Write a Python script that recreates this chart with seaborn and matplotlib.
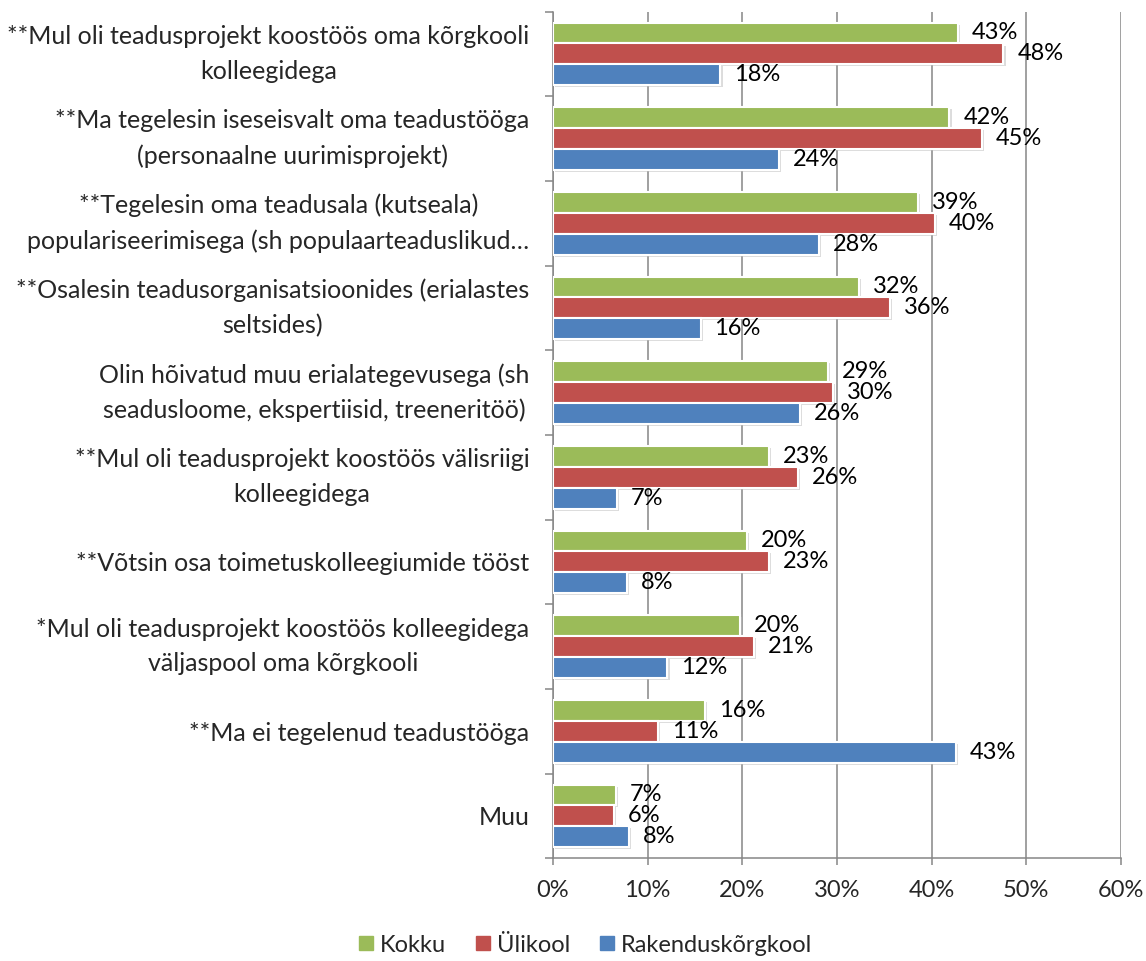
import matplotlib
matplotlib.use("Agg")
import matplotlib.pyplot as plt
import matplotlib.patheffects as pe
from matplotlib.lines import Line2D
from matplotlib.ticker import FixedLocator, FuncFormatter
import seaborn as sns
import pandas as pd

categories = [
    "**Mul oli teadusprojekt koostöös oma kõrgkooli\nkolleegidega",
    "**Ma tegelesin iseseisvalt oma teadustööga\n(personaalne uurimisprojekt)",
    "**Tegelesin oma teadusala (kutseala)\npopulariseerimisega (sh populaarteaduslikud…",
    "**Osalesin teadusorganisatsioonides (erialastes\nseltsides)",
    "Olin hõivatud muu erialategevusega (sh\nseadusloome, ekspertiisid, treeneritöö)",
    "**Mul oli teadusprojekt koostöös välisriigi\nkolleegidega",
    "**Võtsin osa toimetuskolleegiumide tööst",
    "*Mul oli teadusprojekt koostöös kolleegidega\nväljaspool oma kõrgkooli",
    "**Ma ei tegelenud teadustööga",
    "Muu",
]
series = ["Kokku", "Ülikool", "Rakenduskõrgkool"]
kokku = [42.8, 41.9, 38.6, 32.3, 29.1, 22.8, 20.5, 19.8, 16.1, 6.7]
ylikool = [47.6, 45.3, 40.4, 35.6, 29.6, 25.9, 22.8, 21.2, 11.1, 6.4]
rakendus = [17.7, 23.9, 28.1, 15.6, 26.1, 6.8, 7.8, 12.1, 42.6, 8.0]
colors = ["#9BBB59", "#C0504D", "#4F81BD"]
xticks = [0, 10, 20, 30, 40, 50, 60]

rows = []
for s, vals in zip(series, [kokku, ylikool, rakendus]):
    for c, v in zip(categories, vals):
        rows.append({"cat": c, "series": s, "val": v})
df = pd.DataFrame(rows)

sns.set_theme(style="white")
plt.rcParams["font.family"] = ["Lato", "DejaVu Sans"]

fig = plt.figure(figsize=(11.46, 9.61), dpi=100)
ax = fig.add_axes([0.4825, 0.107, 0.4955, 0.881])

sns.barplot(data=df, y="cat", x="val", hue="series", order=categories,
            hue_order=series, palette=colors, saturation=1, orient="h",
            width=0.74, edgecolor="white", linewidth=1.5, ax=ax,
            legend=False, zorder=3)

for p in ax.patches:
    p.set_path_effects([pe.SimplePatchShadow(offset=(1.5, -1.5), shadow_rgbFace="#bbbbbb", alpha=0.5), pe.Normal()])

for cont in ax.containers:
    labels = [f"{round(b.get_width())}%" for b in cont]
    ax.bar_label(cont, labels=labels, padding=10, fontsize=17, color="black")

ax.set_xlim(0, 60)
ax.set_ylim(len(categories) - 0.5, -0.5)
ax.xaxis.set_major_locator(FixedLocator(xticks))
ax.xaxis.set_major_formatter(FuncFormatter(lambda v, p: f"{int(v)}%"))
ax.grid(axis="x", color="#868686", linewidth=1.1, zorder=0)
ax.set_axisbelow(True)
ax.set_xlabel("")
ax.set_ylabel("")

for side in ["top", "right"]:
    ax.spines[side].set_visible(False)
for side in ["left", "bottom"]:
    ax.spines[side].set_color("#868686")
    ax.spines[side].set_linewidth(1.1)

ax.tick_params(axis="x", direction="out", length=5, color="#868686", width=1.1,
               labelsize=17, pad=11, bottom=True)
ax.tick_params(axis="y", which="major", length=0, pad=17, labelsize=18)
ax.set_yticks([i - 0.5 for i in range(len(categories) + 1)], minor=True)
ax.tick_params(axis="y", which="minor", direction="out", length=6,
               color="#868686", width=1.1, left=True)
for t in ax.get_yticklabels():
    t.set_multialignment("center")
    t.set_linespacing(1.6)
    if "\n" in t.get_text():
        t.set_verticalalignment("center")

handles = [Line2D([0], [0], marker="s", linestyle="", markersize=10,
                  markerfacecolor=c, markeredgecolor=c) for c in colors]
fig.legend(handles, series, loc="center", bbox_to_anchor=(0.51, 0.0166),
           ncol=3, frameon=False, fontsize=17, handletextpad=0.2,
           columnspacing=1.15, handlelength=0.8)

fig.savefig("out.png", dpi=100)
